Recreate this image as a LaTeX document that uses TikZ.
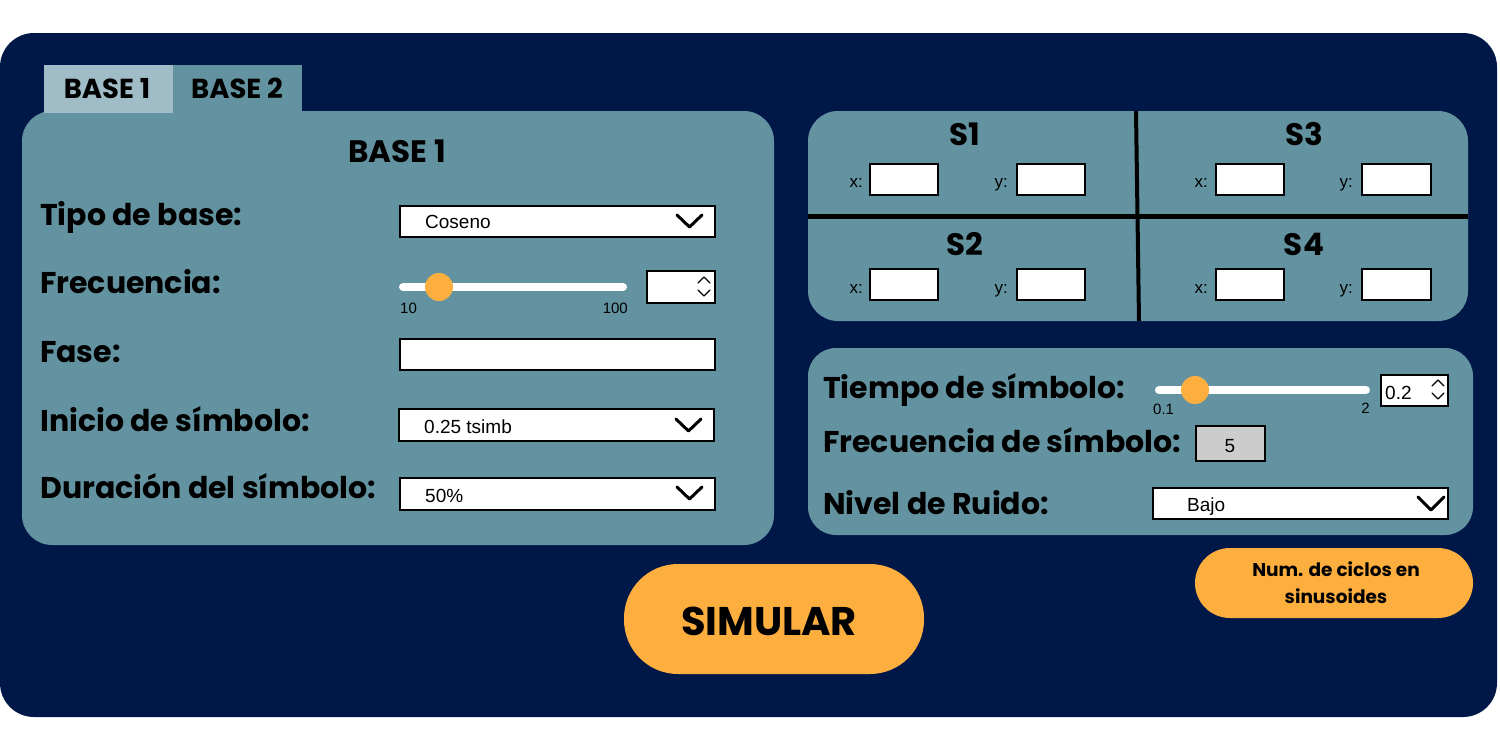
\documentclass[tikz,border=0pt]{standalone}
\usepackage{fontspec}
\setmainfont{Poppins}
\newfontfamily\uifont{Liberation Sans}
\definecolor{navy}{HTML}{001848}
\definecolor{panel}{HTML}{6393A0}
\definecolor{tabl}{HTML}{A0BDC7}
\definecolor{orng}{HTML}{FCAF3F}
\definecolor{greybox}{HTML}{CCCCCC}
\tikzset{
  lbl/.style={anchor=base west, inner sep=0pt, font=\fontsize{30}{32}\selectfont\bfseries},
  ttl/.style={anchor=base, inner sep=0pt, font=\fontsize{31}{32}\selectfont\bfseries},
  tabtxt/.style={anchor=base, inner sep=0pt, font=\fontsize{27.5}{28}\selectfont\bfseries},
  uitxt/.style={anchor=base west, inner sep=0pt, font=\uifont\fontsize{19}{20}\selectfont},
  smalltxt/.style={anchor=base west, inner sep=0pt, font=\uifont\fontsize{15}{16}\selectfont},
  xytxt/.style={anchor=base east, inner sep=0pt, font=\uifont\fontsize{17}{18}\selectfont},
  field/.style={draw=black, fill=white, line width=2.5pt},
  thinfield/.style={draw=black, fill=white, line width=1.5pt},
  chev/.style={draw=black, line width=3pt, line cap=round, line join=round},
  spin/.style={draw=black, line width=1.3pt, line cap=round, line join=round},
  track/.style={draw=white, line width=8pt, line cap=round},
  knob/.style={fill=orng, draw=none},
}
\begin{document}
\begin{tikzpicture}[x=1pt,y=-1pt]
\useasboundingbox (0,0) rectangle (1500,750);
\fill[white] (0,0) rectangle (1500,750);
% background
\fill[navy, rounded corners=34pt] (0,33) rectangle (1497,717);
% tabs
\fill[panel] (173,65) rectangle (302,113);
% left panel
\fill[panel, rounded corners=30pt] (22,111) rectangle (774,545);
\fill[tabl] (44,65) rectangle (173,113);
\node[tabtxt] (tab1) at (107,98) {BASE 1};
\node[tabtxt] (tab2) at (237,98) {BASE 2};
\node[ttl] (title) at (397,162) {BASE 1};
\node[lbl] (l1) at (40,225) {Tipo de base:};
\node[lbl] (l2) at (40,293) {Frecuencia:};
\node[lbl] (l3) at (40,362) {Fase:};
\node[lbl] (l4) at (40,431) {Inicio de símbolo:};
\node[lbl] (l5) at (40,498) {Duración del símbolo:};
% Coseno dropdown
\draw[field] (400,206) rectangle (715,237);
\node[uitxt] (cos) at (425,228) {Coseno};
\draw[chev] (677,215) -- (689.5,227) -- (702,215);
% frequency slider
\draw[track] (403,287) -- (623,287);
\fill[knob] (439,287) circle (14);
\node[smalltxt] (s10) at (400,313) {10};
\node[smalltxt, anchor=base east] (s100) at (628,313) {100};
% spinbox
\draw[field] (647,271) rectangle (715,303);
\draw[spin] (698,283) -- (704,277) -- (710,283);
\draw[spin] (698,290) -- (704,296) -- (710,290);
% fase
\draw[field] (400,339) rectangle (715,370);
% inicio
\draw[thinfield] (399,409) rectangle (714,441);
\node[uitxt] (ini) at (424,433) {0.25 tsimb};
\draw[chev] (676,419) -- (688.5,431) -- (701,419);
% duracion
\draw[thinfield] (400,478) rectangle (715,510);
\node[uitxt] (dur) at (425,502) {50\%};
\draw[chev] (677,487) -- (689.5,499) -- (702,487);
% right top panel
\fill[panel, rounded corners=30pt] (808,111) rectangle (1468,321);
\draw[black, line width=5pt] (808,216) -- (1468,216);
\draw[black, line width=4pt] (1136,111) -- (1139,321);
\node[ttl] (S1) at (965,145) {S1};
\node[ttl] (S3) at (1304,145) {S3};
\node[ttl] (S2) at (965,255) {S2};
\node[ttl] (S4) at (1304,255) {S4};
% S1 / S3 fields
\node[xytxt] (x1) at (863,187) {x:};
\draw[field] (870,164) rectangle (938,195);
\node[xytxt] (y1) at (1008,187) {y:};
\draw[field] (1017,164) rectangle (1085,195);
\node[xytxt] (x3) at (1208,187) {x:};
\draw[field] (1216,164) rectangle (1284,195);
\node[xytxt] (y3) at (1353,187) {y:};
\draw[field] (1362,164) rectangle (1431,195);
% S2 / S4 fields
\node[xytxt] (x2) at (863,293) {x:};
\draw[field] (870,269) rectangle (938,300);
\node[xytxt] (y2) at (1008,293) {y:};
\draw[field] (1017,269) rectangle (1085,300);
\node[xytxt] (x4) at (1208,293) {x:};
\draw[field] (1216,269) rectangle (1284,300);
\node[xytxt] (y4) at (1353,293) {y:};
\draw[field] (1362,269) rectangle (1431,300);
% right bottom panel
\fill[panel, rounded corners=28pt] (808,348) rectangle (1473,535);
\node[lbl] (r1) at (823,398) {Tiempo de símbolo:};
\draw[track] (1159,390) -- (1366,390);
\fill[knob] (1195,390) circle (14);
\node[smalltxt] (s01) at (1153,414) {0.1};
\node[smalltxt, anchor=base east] (s2) at (1370,413) {2};
\draw[field] (1381,375) rectangle (1448,406);
\node[uitxt] (v02) at (1385,399) {0.2};
\draw[spin] (1432,386) -- (1438,380) -- (1444,386);
\draw[spin] (1432,393) -- (1438,399) -- (1444,393);
\node[lbl] (r2) at (823,452) {Frecuencia de símbolo:};
\draw[draw=black, fill=greybox, line width=2pt] (1196,426) rectangle (1265,461);
\node[uitxt, anchor=base] (five) at (1230,452) {5};
\node[lbl] (r3) at (823,514) {Nivel de Ruido:};
\draw[field] (1153,488) rectangle (1448,519);
\node[uitxt] (bajo) at (1187,511) {Bajo};
\draw[chev] (1418,497) -- (1431,510) -- (1444,497);
% buttons
\fill[orng, rounded corners=54pt] (624,564) rectangle (924,674);
\node[anchor=base, inner sep=0pt, font=\fontsize{40}{42}\selectfont\bfseries] (sim) at (769,635) {SIMULAR};
\fill[orng, rounded corners=35pt] (1195,548) rectangle (1473,618);
\node[anchor=base, inner sep=0pt, font=\fontsize{18.5}{20}\selectfont\bfseries] (n1) at (1336,576) {Num. de ciclos en};
\node[anchor=base, inner sep=0pt, font=\fontsize{18.5}{20}\selectfont\bfseries] (n2) at (1336,603) {sinusoides};
\end{tikzpicture}
\end{document}
